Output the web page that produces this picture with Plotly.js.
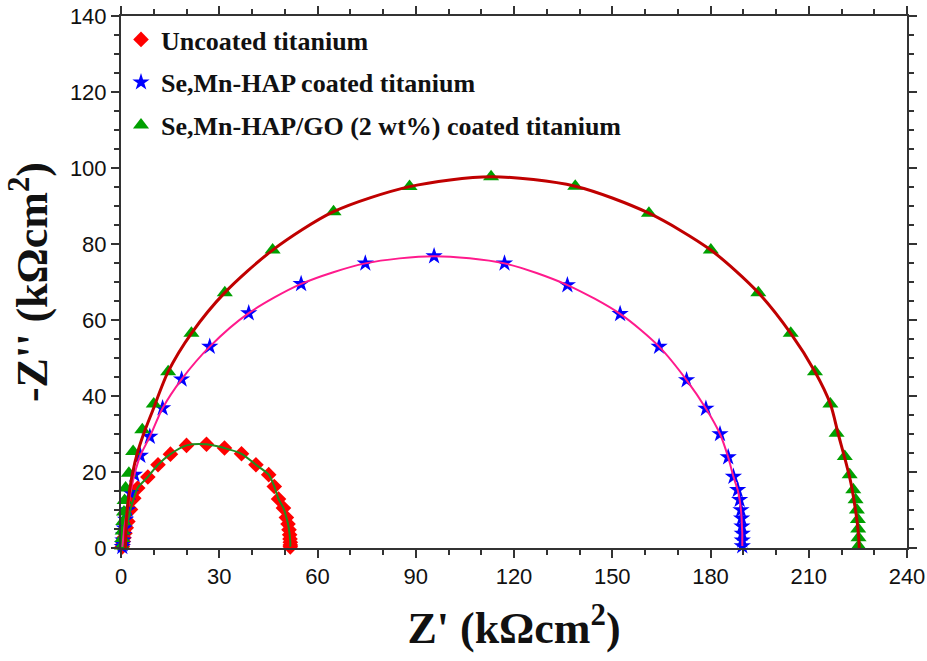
<!DOCTYPE html>
<html>
<head>
<meta charset="utf-8">
<script src="https://cdn.plot.ly/plotly-3.0.1.min.js"></script>
<style>html,body{margin:0;padding:0;background:#fff;}#chart{width:927px;height:661px;}</style>
</head>
<body>
<div id="chart"></div>
<script>
// Series names
var seriesNames = ["Uncoated titanium", "Se,Mn-HAP coated titanium", "Se,Mn-HAP/GO (2 wt%) coated titanium"];

// Uncoated titanium (red diamonds), Z' and -Z'' in kOhm cm2
var uncoatedX = [0.4,0.5,0.7,0.9,1.2,1.6,2.1,2.9,3.9,5.1,8.2,11.3,15.1,20.0,26.1,31.6,36.8,41.2,45.1,46.8,48.1,49.6,50.5,51.0,51.3,51.5,51.6,51.7,51.7,51.7];
var uncoatedY = [0.3,0.9,1.7,2.7,3.9,5.3,7.0,10.1,13.1,15.8,18.7,21.9,24.7,27.0,27.3,26.3,24.8,21.9,19.3,16.2,12.9,10.5,8.0,6.3,4.8,3.5,2.4,1.5,0.8,0.3];

// Se,Mn-HAP coated titanium (blue stars)
var hapX = [0.4,0.5,0.6,0.8,1.0,1.4,2.0,2.9,4.1,5.9,8.8,12.7,18.5,27.1,39.0,55.0,74.6,95.6,117.1,136.3,152.4,164.3,172.7,178.6,182.9,185.4,187.0,188.3,188.9,189.3,189.5,189.6,189.7,189.7,189.7];
var hapY = [0.3,1.0,2.0,3.5,5.2,7.5,10.0,14.5,19.3,24.3,29.3,36.8,44.4,53.0,61.8,69.5,74.9,76.8,74.9,69.2,61.6,53.0,44.2,36.7,30.0,23.9,18.8,15.3,12.7,10.0,7.8,5.7,3.8,2.0,0.5];

// Se,Mn-HAP/GO (2 wt%) coated titanium (green triangles)
var goX = [0.3,0.4,0.5,0.7,0.9,1.1,1.4,2.4,3.7,6.5,10.0,14.4,21.5,31.7,46.3,64.9,88.1,113.0,138.7,161.2,180.1,194.6,204.5,211.9,216.6,218.5,221.0,222.5,223.6,224.3,224.7,225.0,225.1,225.2,225.2];
var goY = [0.5,2.5,4.5,7.0,9.5,12.5,15.8,19.7,25.4,31.1,37.9,46.4,56.5,67.2,78.4,88.5,95.1,97.7,95.2,88.1,78.4,67.2,56.5,46.4,37.9,30.2,24.1,19.3,15.3,12.7,10.0,7.5,5.0,2.7,0.5];

// Fitted curve for Se,Mn-HAP/GO (dark red line)
var goFitX = [1.4,1.5,1.9,2.6,3.6,5.0,6.9,9.6,14.4,21.5,31.7,46.3,64.9,88.1,113.0,138.7,161.2,180.1,194.6,204.5,211.9,216.6,219.0,221.2,222.9,224.1,224.9,225.3,225.4];
var goFitY = [0,5,10,15,20,25,30,36,46.4,56.5,67.2,78.4,88.5,95.1,97.7,95.2,88.1,78.4,67.2,56.5,46.4,37.9,30,23,17,11,6,2,0];

// Axis ticks
var xTicks = [0,30,60,90,120,150,180,210,240];
var yTicks = [0,20,40,60,80,100,120,140];

var markerTraces = [
  {x: uncoatedX, y: uncoatedY, name: seriesNames[0], legendgroup: "a", mode: "markers", type: "scatter", cliponaxis: false,
   marker: {symbol: "diamond", size: 12, color: "#ff0000"}},
  {x: hapX, y: hapY, name: seriesNames[1], legendgroup: "b", mode: "markers", type: "scatter", cliponaxis: false,
   marker: {symbol: "star", size: 13, color: "#0000ff"}},
  {x: goX, y: goY, name: seriesNames[2], legendgroup: "c", mode: "markers", type: "scatter", cliponaxis: false,
   marker: {symbol: "triangle-up", size: 14, color: "#00a000"}}
];
var lineTraces = [
  {x: uncoatedX, y: uncoatedY, mode: "lines", type: "scatter", showlegend: false, hoverinfo: "skip", cliponaxis: false,
   line: {color: "#1f8f1f", width: 2, shape: "spline", smoothing: 0.8}},
  {x: hapX, y: hapY, mode: "lines", type: "scatter", showlegend: false, hoverinfo: "skip", cliponaxis: false,
   line: {color: "#ff1a8c", width: 2, shape: "spline", smoothing: 0.8}},
  {x: goFitX, y: goFitY, mode: "lines", type: "scatter", showlegend: false, hoverinfo: "skip", cliponaxis: false,
   line: {color: "#c00000", width: 3, shape: "spline", smoothing: 0.8}}
];

var tickFont = {family: "'Liberation Sans Narrow', 'Liberation Sans', Arial, sans-serif", size: 22, color: "#111", stretch: "condensed"};
var titleFont = {family: "'Liberation Serif', 'Times New Roman', serif", size: 44, color: "#111", weight: 700};

var layout = {
  width: 927, height: 661,
  margin: {l: 120.5, r: 19.5, t: 15.7, b: 112.7, pad: 0},
  paper_bgcolor: "#fff", plot_bgcolor: "#fff",
  showlegend: true,
  legend: {x: 0.0, y: 1.0, xanchor: "left", yanchor: "top", bgcolor: "rgba(0,0,0,0)",
           traceorder: "grouped", tracegroupgap: 6,
           font: {family: "'Liberation Serif', 'Times New Roman', serif", size: 26, color: "#111", weight: 700}},
  xaxis: {range: [0, 240], tickvals: xTicks, ticktext: xTicks.map(String), showgrid: false, zeroline: false,
          showline: true, linecolor: "#333", linewidth: 2, mirror: "allticks",
          ticks: "outside", ticklen: 8, tickwidth: 2, tickcolor: "#333",
          minor: {dtick: 10, ticklen: 5, tickwidth: 2, tickcolor: "#333", ticks: "outside", showgrid: false},
          tickfont: tickFont,
          title: {text: "Z' (kΩcm<sup>2</sup>)", font: titleFont, standoff: 24}},
  yaxis: {range: [0, 140], tickvals: yTicks, ticktext: yTicks.map(String), showgrid: false, zeroline: false,
          showline: true, linecolor: "#333", linewidth: 2, mirror: "allticks",
          ticks: "outside", ticklen: 8, tickwidth: 2, tickcolor: "#333",
          minor: {dtick: 5, ticklen: 5, tickwidth: 2, tickcolor: "#333", ticks: "outside", showgrid: false},
          tickfont: tickFont,
          title: {text: "-Z'' (kΩcm<sup>2</sup>)", font: titleFont, standoff: 8}}
};

Plotly.newPlot("chart", markerTraces.concat(lineTraces), layout, {displayModeBar: false, staticPlot: true});
</script>
</body>
</html>
